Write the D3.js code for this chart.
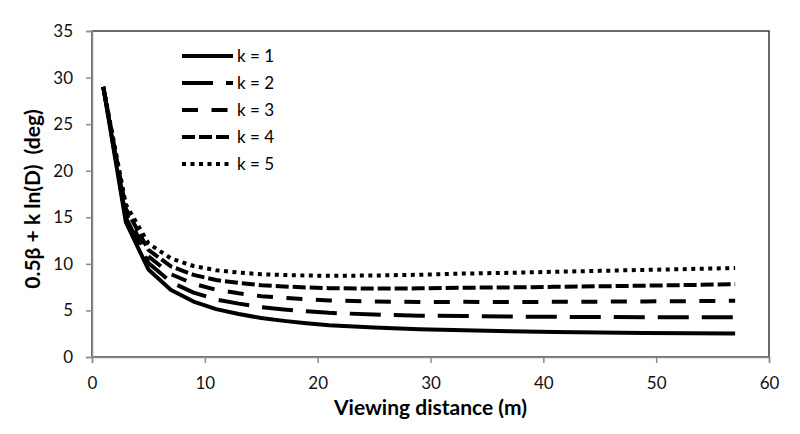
<!DOCTYPE html>
<html>
<head>
<meta charset="utf-8">
<script src="https://cdn.jsdelivr.net/npm/d3@7"></script>
<style>
  body { margin: 0; background: #fff; }
  text { font-family: Lato, "Open Sans", sans-serif; }
</style>
</head>
<body>
<svg id="chart" width="800" height="434"></svg>
<script>
// viewing distance D (m)
const distances = [1, 3, 5, 7, 9, 11, 13, 15, 17, 19, 21, 25, 29, 33, 37, 41, 45, 49, 53, 57];

// 0.5*beta + k ln(D)
const k1 = [29, 14.48, 9.40, 7.20, 5.95, 5.14, 4.61, 4.18, 3.88, 3.63, 3.42, 3.16, 2.98, 2.88, 2.77, 2.69, 2.63, 2.59, 2.55, 2.52];
const k2 = [29, 14.95, 10.10, 8.04, 6.91, 6.18, 5.73, 5.35, 5.11, 4.91, 4.74, 4.56, 4.44, 4.40, 4.34, 4.31, 4.29, 4.28, 4.28, 4.28];
const k3 = [29, 15.43, 10.80, 8.89, 7.86, 7.22, 6.84, 6.53, 6.34, 6.19, 6.07, 5.95, 5.91, 5.92, 5.90, 5.92, 5.94, 5.97, 6.00, 6.04];
const k4 = [29, 15.91, 11.50, 9.73, 8.82, 8.26, 7.96, 7.70, 7.57, 7.47, 7.39, 7.35, 7.37, 7.44, 7.47, 7.53, 7.59, 7.66, 7.73, 7.82];
const k5 = [29, 16.39, 12.20, 10.58, 9.77, 9.31, 9.07, 8.88, 8.80, 8.75, 8.71, 8.75, 8.83, 8.96, 9.04, 9.15, 9.25, 9.35, 9.45, 9.55];

const seriesNames = ["k = 1", "k = 2", "k = 3", "k = 4", "k = 5"];
const seriesValues = [k1, k2, k3, k4, k5];
const dashes = [null, "31,13", "16,13.5", "13,4", "4,4.5"];

const xTicks = [0, 10, 20, 30, 40, 50, 60];
const yTicks = [0, 5, 10, 15, 20, 25, 30, 35];

const svg = d3.select("#chart");
const margin = { top: 31, right: 31, bottom: 77, left: 92 };
const width = 800, height = 434;

const x = d3.scaleLinear().domain([0, 60]).range([margin.left, width - margin.right]);
const y = d3.scaleLinear().domain([0, 35]).range([height - margin.bottom, margin.top]);

// plot area border (top/right dark)
svg.append("rect")
  .attr("x", x(0)).attr("y", y(35))
  .attr("width", x(60) - x(0)).attr("height", y(0) - y(35))
  .attr("fill", "none").attr("stroke", "#3a3a3a").attr("stroke-width", 1.5);

// axes
const xAxis = svg.append("g")
  .attr("transform", `translate(0,${y(0)})`)
  .call(d3.axisBottom(x).tickValues(xTicks).tickSize(6).tickPadding(14));
const yAxis = svg.append("g")
  .attr("transform", `translate(${x(0)},0)`)
  .call(d3.axisLeft(y).tickValues(yTicks).tickSize(6).tickPadding(13));

[xAxis, yAxis].forEach((ax) => {
  ax.select(".domain").attr("stroke", "#8c8c8c").attr("stroke-width", 1.5);
  ax.selectAll(".tick line").attr("stroke", "#8c8c8c").attr("stroke-width", 1.5);
  ax.selectAll(".tick text")
    .attr("fill", "#111")
    .style("font-size", "17px")
    .style("font-family", "Lato, 'Open Sans', sans-serif");
});

// lines
const line = d3.line()
  .x((d, i) => x(distances[i]))
  .y((d) => y(d));

svg.append("g")
  .selectAll("path")
  .data(seriesValues)
  .join("path")
  .attr("d", (d) => line(d))
  .attr("fill", "none")
  .attr("stroke", "#000")
  .attr("stroke-width", 4)
  .attr("stroke-linejoin", "round")
  .attr("stroke-dasharray", (d, i) => dashes[i]);

// legend
const legend = svg.append("g").attr("transform", "translate(182,56)");
seriesNames.forEach((name, i) => {
  const row = legend.append("g").attr("transform", `translate(0,${i * 27})`);
  row.append("line")
    .attr("x1", 0).attr("x2", 51)
    .attr("stroke", "#000").attr("stroke-width", 4)
    .attr("stroke-dasharray", dashes[i]);
  row.append("text")
    .attr("x", 55).attr("y", 0).attr("dy", "0.35em")
    .style("font-size", "17px")
    .text(name);
});

// axis titles
svg.append("text")
  .attr("x", (x(0) + x(60)) / 2).attr("y", 415)
  .attr("text-anchor", "middle")
  .style("font-size", "21px").style("font-weight", "bold")
  .text("Viewing distance (m)");

svg.append("text")
  .attr("transform", `translate(40,${(y(0) + y(35)) / 2 + 5}) rotate(-90)`)
  .attr("text-anchor", "middle")
  .style("font-size", "21px").style("font-weight", "bold")
  .style("white-space", "pre")
  .text("0.5β + k ln(D)  (deg)");
</script>
</body>
</html>
